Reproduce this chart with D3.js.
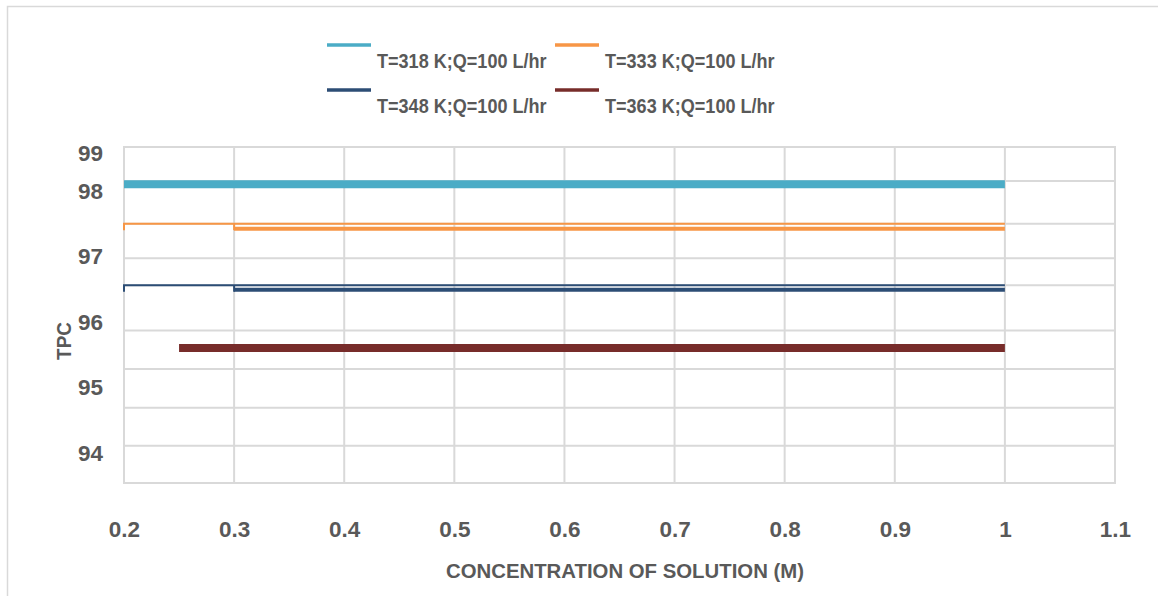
<!DOCTYPE html>
<html>
<head>
<meta charset="utf-8">
<script src="https://cdn.jsdelivr.net/npm/d3@7"></script>
<style>
  body { margin: 0; background: #fff; }
  svg { display: block; }
</style>
</head>
<body>
<svg id="chart" width="1158" height="596"></svg>
<script>
// x axis ticks (concentration, M)
const xTicks = [0.2, 0.3, 0.4, 0.5, 0.6, 0.7, 0.8, 0.9, 1, 1.1];
// y tick labels and where they sit on the value axis
const yTickPos = [98.58, 98, 97, 96, 95, 94];
const yTickLabels = ['99', '98', '97', '96', '95', '94'];
// horizontal gridlines (as drawn in the original, uneven)
const yGrid = [98.67, 98.15, 97.5, 96.97, 96.56, 95.87, 95.28, 94.69, 94.11, 93.54];

const seriesNames = ['T=318 K;Q=100 L/hr', 'T=333 K;Q=100 L/hr', 'T=348 K;Q=100 L/hr', 'T=363 K;Q=100 L/hr'];
const seriesColors = ['#4BACC6', '#F79646', '#2C4D75', '#772C2A'];

// TPC values per series
const s318 = [[0.2, 98.1], [1, 98.1]];
const s333Thin = [[0.2, 97.4], [0.2, 97.5], [1, 97.5]];
const s333Stub = [[0.3, 97.5], [0.3, 97.4]];
const s333 = [[0.3, 97.42], [1, 97.42]];
const s348Thin = [[0.2, 96.46], [0.2, 96.56], [1, 96.56]];
const s348Stub = [[0.3, 96.56], [0.3, 96.46]];
const s348 = [[0.3, 96.49], [1, 96.49]];
const s363 = [[0.25, 95.6], [1, 95.6]];

const textColor = '#595959';
const gridColor = '#D9D9D9';
const font = '"Liberation Sans", Arial, sans-serif';

const svg = d3.select('#chart');
svg.append('rect').attr('width', 1158).attr('height', 596).attr('fill', '#fff');
// chart area border (runs off the picture to the right and bottom)
svg.append('rect')
    .attr('x', 7.5).attr('y', 6.5)
    .attr('width', 1200).attr('height', 650)
    .attr('fill', 'none')
    .attr('stroke', gridColor)
    .attr('stroke-width', 1.5);

const x = d3.scaleLinear().domain([0.2, 1.1]).range([124, 1115]);
const y = d3.scaleLinear().domain([93.54, 98.67]).range([483, 147]);

// Gridlines
const grid = svg.append('g');
grid.selectAll('line.v')
    .data(xTicks)
    .join('line')
    .attr('class', 'v')
    .attr('x1', d => x(d)).attr('x2', d => x(d))
    .attr('y1', y(93.54) + 1).attr('y2', y(98.67) - 1)
    .attr('stroke', gridColor).attr('stroke-width', 2);
grid.selectAll('line.h')
    .data(yGrid)
    .join('line')
    .attr('class', 'h')
    .attr('x1', x(0.2)).attr('x2', x(1.1))
    .attr('y1', d => y(d)).attr('y2', d => y(d))
    .attr('stroke', gridColor).attr('stroke-width', 2);

// Series
const line = d3.line().x(d => x(d[0])).y(d => y(d[1]));
const marks = [
    { pts: s318, c: 0, w: 8 },
    { pts: s333Thin, c: 1, w: 2 },
    { pts: s333Stub, c: 1, w: 2 },
    { pts: s333, c: 1, w: 4 },
    { pts: s348Thin, c: 2, w: 2 },
    { pts: s348Stub, c: 2, w: 2 },
    { pts: s348, c: 2, w: 4 },
    { pts: s363, c: 3, w: 8 }
];
svg.append('g').selectAll('path')
    .data(marks)
    .join('path')
    .attr('d', d => line(d.pts))
    .attr('fill', 'none')
    .attr('stroke', d => seriesColors[d.c])
    .attr('stroke-width', d => d.w)
    .attr('stroke-linecap', 'butt');

// Axes
const yAxis = svg.append('g')
    .attr('transform', `translate(${x(0.2)},0)`)
    .call(d3.axisLeft(y).tickValues(yTickPos).tickFormat((d, i) => yTickLabels[i]).tickSize(0).tickPadding(21));
const xAxis = svg.append('g')
    .attr('transform', `translate(0,${y(93.54)})`)
    .call(d3.axisBottom(x).tickValues(xTicks).tickFormat(d => String(d)).tickSize(0).tickPadding(38));
[yAxis, xAxis].forEach(a => {
    a.select('.domain').remove();
    a.selectAll('text')
        .attr('fill', textColor)
        .attr('font-family', font)
        .attr('font-weight', 'bold')
        .attr('font-size', '22.5px');
});

// Axis titles
svg.append('text')
    .attr('transform', 'translate(625,578) scale(0.97,1)')
    .attr('text-anchor', 'middle')
    .attr('fill', textColor)
    .attr('font-family', font)
    .attr('font-weight', 'bold')
    .attr('font-size', '21px')
    .text('CONCENTRATION OF SOLUTION (M)');
svg.append('text')
    .attr('transform', 'translate(71,341) rotate(-90) scale(0.9,1)')
    .attr('text-anchor', 'middle')
    .attr('fill', textColor)
    .attr('font-family', font)
    .attr('font-weight', 'bold')
    .attr('font-size', '21px')
    .text('TPC');

// Legend
const legCols = [327, 555];
const legRows = [45, 90];
const legend = svg.append('g').selectAll('g')
    .data(seriesNames)
    .join('g')
    .attr('transform', (d, i) => `translate(${legCols[i % 2]},${legRows[Math.floor(i / 2)]})`);
legend.append('line')
    .attr('x1', 0).attr('x2', 44)
    .attr('stroke', (d, i) => seriesColors[i])
    .attr('stroke-width', 3.5);
legend.append('text')
    .attr('transform', 'translate(50,22.7) scale(0.86,1)')
    .attr('fill', textColor)
    .attr('font-family', font)
    .attr('font-weight', 'bold')
    .attr('font-size', '21px')
    .text(d => d);
</script>
</body>
</html>
